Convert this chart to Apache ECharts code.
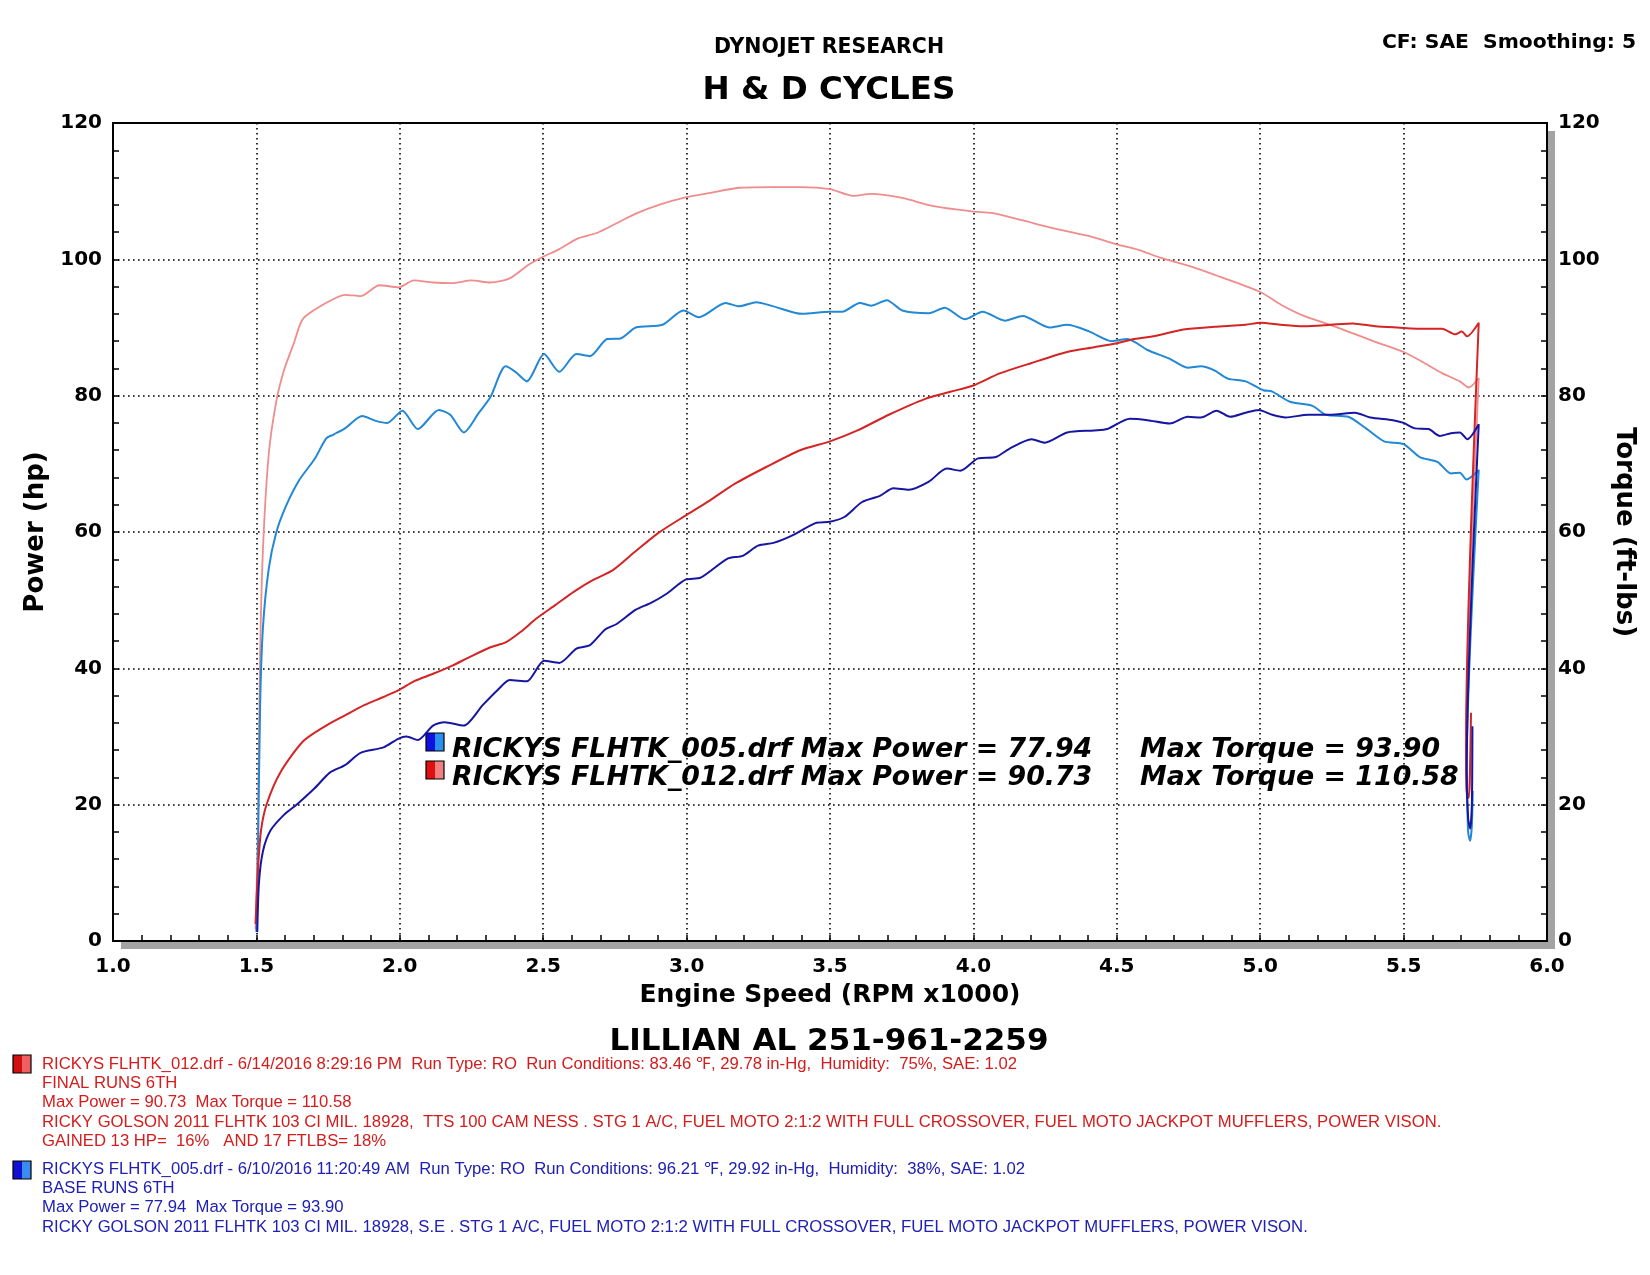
<!DOCTYPE html>
<html><head><meta charset="utf-8">
<script src="https://cdn.jsdelivr.net/npm/echarts/dist/echarts.min.js"></script>
<style>html,body{margin:0;padding:0;background:#fff}#c{width:1650px;height:1275px}</style>
</head><body><div id="c"></div><script>
// ---------- DATA ----------
const xTicks = [1.0, 1.5, 2.0, 2.5, 3.0, 3.5, 4.0, 4.5, 5.0, 5.5, 6.0];
const yTicks = [0, 20, 40, 60, 80, 100, 120];

// Run 012 torque (ft-lbs)
const rpmTq012 = [1.497,1.502,1.506,1.513,1.523,1.543,1.569,1.596,1.629,1.663,1.743,1.809,1.863,1.929,1.996,2.049,2.116,2.183,2.249,2.316,2.383,2.449,2.496,2.556,2.623,2.689,2.756,2.823,2.903,2.996,3.076,3.183,3.303,3.396,3.5,3.581,3.643,3.752,3.861,4.0,4.064,4.173,4.265,4.405,4.5,4.576,4.654,4.763,4.856,5.0,5.074,5.152,5.229,5.307,5.401,5.5,5.572,5.634,5.696,5.727,5.762,5.718,5.72,5.727,5.733,5.735];
const tq012 = [1.7,10,19.3,42.3,57.6,71.4,79.1,83.7,87.5,91.3,93.6,94.8,94.6,96.2,95.9,96.9,96.6,96.5,96.9,96.6,97.2,99.2,100.3,101.5,103.1,103.9,105.3,106.7,108.0,109.1,109.7,110.5,110.6,110.6,110.3,109.3,109.6,109.0,107.8,107.0,106.8,105.7,104.7,103.4,102.2,101.4,100.2,98.9,97.5,95.2,93.3,91.7,90.6,89.4,87.9,86.4,84.8,83.3,82.1,81.2,82.6,28,21.6,21,24,30];

// Run 005 torque (ft-lbs)
const rpmTq005 = [1.5,1.505,1.513,1.523,1.543,1.569,1.603,1.649,1.703,1.743,1.769,1.809,1.869,1.916,1.956,2.009,2.063,2.136,2.176,2.223,2.276,2.316,2.369,2.403,2.443,2.503,2.556,2.616,2.663,2.723,2.769,2.823,2.916,2.989,3.043,3.136,3.183,3.243,3.303,3.403,3.5,3.542,3.604,3.643,3.698,3.752,3.845,3.9,3.97,4.032,4.11,4.172,4.265,4.327,4.405,4.483,4.537,4.607,4.685,4.747,4.793,4.84,4.887,4.949,5.011,5.042,5.104,5.182,5.229,5.307,5.369,5.432,5.5,5.556,5.618,5.665,5.696,5.719,5.762,5.72,5.725,5.732,5.738,5.741];
const tq005 = [1.3,11.6,34.6,46.1,54.6,59.9,63.8,67.6,70.7,73.7,74.3,75.2,77.0,76.3,76.0,77.8,75.1,77.9,77.2,74.6,77.5,79.8,84.3,83.5,82.1,86.1,83.5,86.1,85.8,88.3,88.4,90.0,90.4,92.5,91.5,93.6,93.1,93.7,93.1,92.0,92.3,92.3,93.6,93.2,94.0,92.5,92.1,92.9,91.2,92.3,91.0,91.7,90.0,90.4,89.4,88.0,88.3,86.7,85.4,84.1,84.3,83.7,82.5,82.1,80.8,80.6,79.1,78.5,77.2,76.9,75.2,73.3,72.9,71.0,70.3,68.6,68.7,67.7,69.1,25,16,14.7,17,22];

// Run 012 power (hp)
const rpmHp012 = [1.497,1.505,1.516,1.536,1.583,1.663,1.743,1.809,1.876,1.943,1.996,2.049,2.116,2.183,2.236,2.316,2.369,2.423,2.476,2.543,2.609,2.676,2.743,2.823,2.903,2.996,3.076,3.169,3.276,3.396,3.5,3.596,3.705,3.83,3.923,4.0,4.094,4.203,4.327,4.421,4.5,4.561,4.638,4.732,4.841,4.949,5.0,5.074,5.152,5.245,5.322,5.401,5.479,5.572,5.634,5.68,5.703,5.721,5.762,5.718,5.72,5.727,5.732,5.735];
const hp012 = [2.5,10.1,16.2,20.1,24.7,29.3,31.6,33.1,34.6,35.8,36.8,38.1,39.2,40.4,41.5,43.1,43.8,45.4,47.3,49.3,51.3,53.0,54.4,57.2,59.9,62.4,64.5,67.1,69.5,72.0,73.3,74.9,77.2,79.5,80.6,81.5,83.3,84.8,86.4,87.1,87.7,88.3,88.8,89.7,90.1,90.4,90.7,90.4,90.2,90.4,90.6,90.2,90.0,89.8,89.8,89.0,89.4,88.7,90.7,30,22,21,26,33.5];

// Run 005 power (hp)
const rpmHp005 = [1.503,1.509,1.523,1.549,1.596,1.643,1.703,1.756,1.809,1.863,1.943,1.996,2.023,2.063,2.116,2.156,2.223,2.289,2.343,2.383,2.443,2.503,2.556,2.616,2.663,2.716,2.756,2.823,2.876,2.929,2.996,3.049,3.143,3.196,3.249,3.303,3.369,3.449,3.5,3.55,3.612,3.674,3.721,3.775,3.845,3.907,3.954,4.016,4.079,4.125,4.203,4.249,4.327,4.421,4.467,4.545,4.607,4.685,4.747,4.793,4.848,4.895,4.949,4.995,5.042,5.089,5.167,5.245,5.33,5.384,5.463,5.5,5.54,5.587,5.626,5.665,5.696,5.722,5.762,5.72,5.725,5.732,5.738,5.74];
const hp005 = [1.3,8.6,13.2,16.2,18.5,20.1,22.4,24.7,25.8,27.6,28.4,29.7,30.0,29.5,31.6,32.1,31.6,34.6,36.9,38.3,38.1,41.1,40.8,42.9,43.4,45.7,46.5,48.6,49.6,50.9,53.0,53.3,56.1,56.5,58.0,58.4,59.5,61.3,61.5,62.2,64.4,65.3,66.4,66.2,67.4,69.3,69.0,70.8,71.0,72.2,73.6,73.1,74.6,74.9,75.1,76.6,76.4,75.9,76.9,76.8,77.8,76.9,77.5,77.9,77.2,76.8,77.2,77.2,77.5,76.8,76.4,76.0,75.2,75.1,74.1,74.5,74.6,73.6,75.8,25,18,16.5,20,31.5];

const legendLines = [
  ['RICKYS FLHTK_005.drf Max Power = 77.94', 'Max Torque = 93.90'],
  ['RICKYS FLHTK_012.drf Max Power = 90.73', 'Max Torque = 110.58']
];
const notes012 = [
  'RICKYS FLHTK_012.drf - 6/14/2016 8:29:16 PM  Run Type: RO  Run Conditions: 83.46 \u2109, 29.78 in-Hg,  Humidity:  75%, SAE: 1.02',
  'FINAL RUNS 6TH',
  'Max Power = 90.73  Max Torque = 110.58',
  'RICKY GOLSON 2011 FLHTK 103 CI MIL. 18928,  TTS 100 CAM NESS . STG 1 A/C, FUEL MOTO 2:1:2 WITH FULL CROSSOVER, FUEL MOTO JACKPOT MUFFLERS, POWER VISON.',
  'GAINED 13 HP=  16%   AND 17 FTLBS= 18%'
];
const notes005 = [
  'RICKYS FLHTK_005.drf - 6/10/2016 11:20:49 AM  Run Type: RO  Run Conditions: 96.21 \u2109, 29.92 in-Hg,  Humidity:  38%, SAE: 1.02',
  'BASE RUNS 6TH',
  'Max Power = 77.94  Max Torque = 93.90',
  'RICKY GOLSON 2011 FLHTK 103 CI MIL. 18928, S.E . STG 1 A/C, FUEL MOTO 2:1:2 WITH FULL CROSSOVER, FUEL MOTO JACKPOT MUFFLERS, POWER VISON.'
];

// ---------- CHART ----------
const zip = (a, b) => a.map((x, i) => [x, b[i]]);
const C_TQ012 = '#F08C8C', C_HP012 = '#D42424', C_TQ005 = '#2288D6', C_HP005 = '#1616A2';
const NOTE_RED = '#D41C1C', NOTE_BLUE = '#2020B4';
const F = '"DejaVu Sans", Verdana, sans-serif';
const NF = '"Liberation Sans", Arial, sans-serif';
const dotted = { color: '#000', width: 1.6, type: [1.6, 3.4] };

const G_LEFT = 113, G_RIGHT = 103, G_TOP = 123, G_BOTTOM = 334, W = 1650, H = 1275;

const chart = echarts.init(document.getElementById('c'), null, { renderer: 'canvas' });

function icon(x, y, dark, light) {
  return {
    type: 'group', x: x, y: y, children: [
      { type: 'rect', shape: { x: 0, y: 0, width: 9, height: 18 }, style: { fill: dark } },
      { type: 'rect', shape: { x: 9, y: 0, width: 9, height: 18 }, style: { fill: light } },
      { type: 'rect', shape: { x: 0, y: 0, width: 18, height: 18 }, style: { fill: 'none', stroke: '#000', lineWidth: 1.2 } }
    ]
  };
}

const graphics = [
  // drop shadow of the plot frame
  { type: 'rect', z: -10, silent: true,
    shape: { x: G_LEFT + 8, y: G_TOP + 8, width: W - G_LEFT - G_RIGHT, height: H - G_TOP - G_BOTTOM },
    style: { fill: '#a3a3a3' } },
  { type: 'text', x: 829, y: 48, style: { text: 'DYNOJET RESEARCH', font: 'bold 20.5px ' + F, fill: '#000', align: 'center', verticalAlign: 'middle' } },
  { type: 'text', x: 829, y: 91, style: { text: 'H & D CYCLES', font: 'bold 32.5px ' + F, fill: '#000', align: 'center', verticalAlign: 'middle' } },
  { type: 'text', x: 1636, y: 43, style: { text: 'CF: SAE  Smoothing: 5', font: 'bold 20.3px ' + F, fill: '#000', align: 'right', verticalAlign: 'middle' } },
  { type: 'text', x: 829, y: 1042, style: { text: 'LILLIAN AL 251-961-2259', font: 'bold 31px ' + F, fill: '#000', align: 'center', verticalAlign: 'middle' } },
  icon(426, 733, '#1010E0', '#2A90F0'),
  icon(426, 761, '#E01010', '#F08080'),
  icon(13, 1055, '#D01010', '#F06060'),
  icon(13, 1161, '#1010D0', '#3A8CF0')
];
legendLines.forEach((l, i) => {
  graphics.push({ type: 'text', x: 452, y: 750 + i * 28, style: { text: l[0], font: 'italic bold 26.8px ' + F, fill: '#000', verticalAlign: 'middle' } });
  graphics.push({ type: 'text', x: 1140, y: 750 + i * 28, style: { text: l[1], font: 'italic bold 26.8px ' + F, fill: '#000', verticalAlign: 'middle' } });
});
notes012.forEach((t, i) => {
  graphics.push({ type: 'text', x: 42, y: 1064 + i * 19.3, style: { text: t, font: '16.7px ' + NF, fill: NOTE_RED, verticalAlign: 'middle' } });
});
notes005.forEach((t, i) => {
  graphics.push({ type: 'text', x: 42, y: 1169 + i * 19.3, style: { text: t, font: '16.7px ' + NF, fill: NOTE_BLUE, verticalAlign: 'middle' } });
});

const yAxisBase = {
  type: 'value', min: yTicks[0], max: yTicks[yTicks.length - 1], interval: 20,
  axisLine: { show: true, lineStyle: { color: '#000', width: 2 } },
  axisTick: { show: true, inside: true, length: 6, lineStyle: { color: '#000', width: 1.5 } },
  minorTick: { show: true, splitNumber: 5, length: 6, lineStyle: { color: '#000', width: 1.5 } },
  axisLabel: { color: '#000', fontFamily: F, fontWeight: 'bold', fontSize: 20, margin: 11 },
  nameTextStyle: { color: '#000', fontFamily: F, fontWeight: 'bold', fontSize: 26 },
  nameLocation: 'middle'
};

const option = {
  animation: false,
  backgroundColor: '#fff',
  grid: {
    left: G_LEFT, right: G_RIGHT, top: G_TOP, bottom: G_BOTTOM, show: true,
    borderColor: '#000', borderWidth: 2, backgroundColor: '#fff'
  },
  xAxis: {
    type: 'value', min: xTicks[0], max: xTicks[xTicks.length - 1], interval: 0.5,
    name: 'Engine Speed (RPM x1000)', nameLocation: 'middle', nameGap: 42,
    nameTextStyle: { color: '#000', fontFamily: F, fontWeight: 'bold', fontSize: 25 },
    axisLine: { show: true, lineStyle: { color: '#000', width: 2 } },
    axisTick: { show: true, inside: true, length: 6, lineStyle: { color: '#000', width: 1.5 } },
    minorTick: { show: true, splitNumber: 5, length: 6, lineStyle: { color: '#000', width: 1.5 } },
    axisLabel: { color: '#000', fontFamily: F, fontWeight: 'bold', fontSize: 20, margin: 16, formatter: v => v.toFixed(1) },
    splitLine: { show: true, lineStyle: dotted }
  },
  yAxis: [
    Object.assign({}, yAxisBase, { position: 'left', name: 'Power (hp)', nameRotate: 90, nameGap: 58,
      splitLine: { show: true, lineStyle: dotted } }),
    Object.assign({}, yAxisBase, { position: 'right', name: 'Torque (ft-lbs)', nameRotate: -90, nameGap: 58,
      splitLine: { show: false } })
  ],
  graphic: graphics,
  series: [
    { name: 'Torque 012', type: 'line', yAxisIndex: 1, data: zip(rpmTq012, tq012), showSymbol: false, smooth: 0.25, lineStyle: { color: C_TQ012, width: 1.8 }, z: 2 },
    { name: 'Torque 005', type: 'line', yAxisIndex: 1, data: zip(rpmTq005, tq005), showSymbol: false, smooth: 0.25, lineStyle: { color: C_TQ005, width: 2 }, z: 3 },
    { name: 'Power 012', type: 'line', yAxisIndex: 0, data: zip(rpmHp012, hp012), showSymbol: false, smooth: 0.25, lineStyle: { color: C_HP012, width: 2 }, z: 4 },
    { name: 'Power 005', type: 'line', yAxisIndex: 0, data: zip(rpmHp005, hp005), showSymbol: false, smooth: 0.25, lineStyle: { color: C_HP005, width: 2 }, z: 5 }
  ]
};
chart.setOption(option);
</script></body></html>
